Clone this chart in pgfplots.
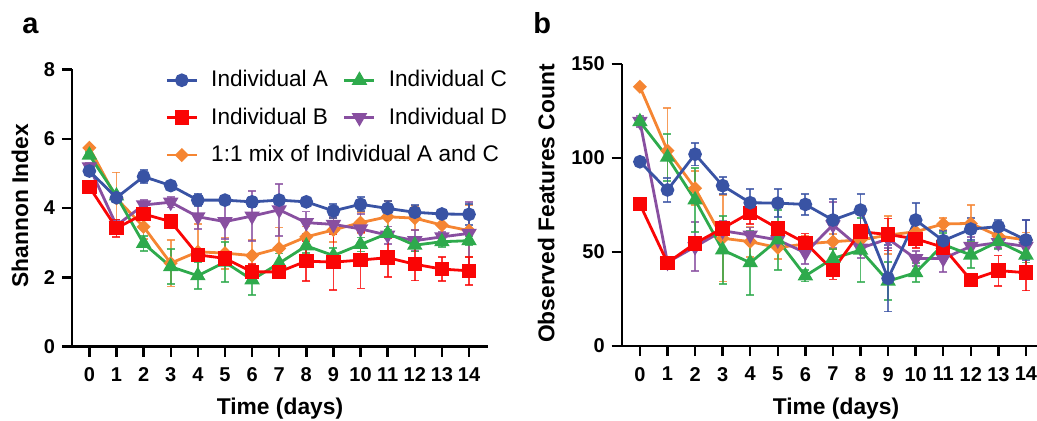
\documentclass[border=0pt]{standalone}
\usepackage{pgfplots}
\pgfplotsset{compat=1.18}
\usepackage{pgfplotstable}
\usepackage{fontspec}
\setmainfont{Liberation Sans}

\definecolor{colA}{RGB}{57,83,164}
\definecolor{colB}{RGB}{250,5,5}
\definecolor{colC}{RGB}{46,170,76}
\definecolor{colD}{RGB}{136,79,160}
\definecolor{colM}{RGB}{245,133,50}

% Shannon index: day, mean, error
\pgfplotstableread{
x y e
0 5.07 0.12
1 4.30 0.12
2 4.91 0.18
3 4.65 0.08
4 4.23 0.18
5 4.23 0.10
6 4.18 0.15
7 4.23 0.10
8 4.18 0.06
9 3.92 0.20
10 4.11 0.20
11 3.99 0.22
12 3.88 0.20
13 3.83 0.12
14 3.82 0.30
}\shanA
\pgfplotstableread{
x y e
0 4.61 0.10
1 3.42 0.25
2 3.83 0.15
3 3.61 0.20
4 2.65 0.12
5 2.55 0.12
6 2.16 0.22
7 2.16 0.10
8 2.47 0.57
9 2.44 0.80
10 2.50 0.82
11 2.57 0.55
12 2.38 0.47
13 2.24 0.35
14 2.19 0.40
}\shanB
\pgfplotstableread{
x y e
0 5.53 0.08
1 4.35 0.10
2 2.98 0.22
3 2.31 0.50
4 2.05 0.38
5 2.44 0.58
6 1.93 0.43
7 2.41 0.28
8 2.91 0.20
9 2.63 0.22
10 2.95 0.20
11 3.27 0.10
12 2.93 0.18
13 3.03 0.15
14 3.06 0.12
}\shanC
\pgfplotstableread{
x y e
0 5.19 0.10
1 3.50 0.15
2 4.09 0.15
3 4.17 0.15
4 3.75 0.35
5 3.61 0.50
6 3.77 0.72
7 3.95 0.75
8 3.58 0.32
9 3.53 0.25
10 3.40 0.42
11 3.22 0.25
12 3.06 0.30
13 3.17 0.15
14 3.27 0.90
}\shanD
\pgfplotstableread{
x y e
0 5.74 0.05
1 4.28 0.75
2 3.46 0.35
3 2.41 0.67
4 2.74 0.80
5 2.70 0.45
6 2.63 0.45
7 2.84 0.60
8 3.17 0.30
9 3.37 0.35
10 3.58 0.30
11 3.75 0.45
12 3.71 0.35
13 3.51 0.35
14 3.35 0.75
}\shanM

% Observed features: day, mean, error
\pgfplotstableread{
x y e
0 98.0 1
1 83.0 6.5
2 102.0 6
3 85.3 4.5
4 76.2 7.5
5 76.0 7.5
6 75.3 5.6
7 67.0 11
8 72.3 8.5
9 36.0 17.7
10 67.0 9
11 56.0 5
12 62.2 6
13 63.5 3.5
14 56.4 10.5
}\obsA
\pgfplotstableread{
x y e
0 75.4 1
1 44.3 1
2 54.6 3
3 62.6 3
4 70.9 6
5 62.6 3
6 54.8 5
7 40.4 5
8 60.8 9
9 59.3 8.5
10 57.0 5
11 52.5 5
12 35.1 2
13 40.1 8
14 39.0 9.5
}\obsB
\pgfplotstableread{
x y e
0 119.3 2
1 100.4 12.5
2 77.7 17
3 51.1 18
4 44.3 17
5 56.4 16
6 37.3 3
7 46.6 5
8 51.0 17
9 34.5 10
10 39.0 5
11 54.0 6
12 48.4 7
13 55.5 4
14 48.4 4
}\obsC
\pgfplotstableread{
x y e
0 119.5 3
1 44.5 1
2 52.8 13
3 61.3 5
4 59.0 4
5 56.4 4
6 49.6 6
7 64.4 12
8 52.0 5
9 57.0 5
10 46.5 4
11 46.5 7
12 53.0 5
13 55.0 3
14 53.0 14
}\obsD
\pgfplotstableread{
x y e
0 137.9 1
1 103.9 22.5
2 83.9 9
3 57.3 23
4 55.5 8
5 52.3 6
6 54.3 4
7 55.5 4
8 56.4 7
9 59.0 10
10 60.8 5
11 64.9 3
12 65.2 10
13 58.5 3
14 56.4 4
}\obsM

\pgfplotsset{
  panel/.style={
    scale only axis,
    axis lines=left,
    axis line style={-, line width=1.2pt},
    tick align=outside,
    major tick length=5pt,
    tick style={line width=1.2pt, black},
    xtick={0,...,14},
    minor tick num=0,
    tick label style={font=\fontsize{10}{12}\selectfont\bfseries},
    xticklabel style={yshift=-2pt},
    /pgf/number format/assume math mode=true,
    label style={font=\fontsize{11.4}{13}\selectfont\bfseries},
    clip=false,
  },
  errs/.style={
    error bars/y dir=both,
    error bars/y explicit,
    error bars/error bar style={line width=0.9pt, opacity=0.8, #1},
    error bars/error mark options={rotate=90, mark size=2pt, line width=0.9pt, opacity=0.8, #1},
  },
  lA/.style={color=colA, line width=1.4pt, mark=*, mark size=2.7pt, mark options={solid}},
  lB/.style={color=colB, line width=1.4pt, mark=square*, mark size=2.9pt, mark options={solid}},
  lC/.style={color=colC, line width=1.4pt, mark=triangle*, mark size=3.1pt, mark options={solid}},
  lD/.style={color=colD, line width=1.4pt, mark=triangle*, mark size=3.1pt, mark options={solid, rotate=180}},
  lM/.style={color=colM, line width=1.4pt, mark=square*, mark size=1.8pt, mark options={solid, rotate=45}},
  sA/.style={lA, errs=colA},
  sB/.style={lB, errs=colB},
  sC/.style={lC, errs=colC},
  sD/.style={lD, errs=colD},
  sM/.style={lM, errs=colM},
}

\begin{document}
\begin{tikzpicture}
\useasboundingbox (0pt,0pt) rectangle (518.5pt,-210.5pt);

\node[anchor=base west, inner sep=0pt, font=\fontsize{14.5}{16}\selectfont\bfseries] at (11pt,-17pt) {a};
\node[anchor=base west, inner sep=0pt, font=\fontsize{14.5}{16}\selectfont\bfseries] at (266.5pt,-17pt) {b};

% Panel a: Shannon index
\begin{axis}[
  panel,
  at={(36pt,-173.35pt)}, anchor=south west,
  width=208pt, height=138.6pt,
  xmin=-0.64, xmax=14.7, ymin=0, ymax=8,
  ytick={0,2,4,6,8},
  xlabel={Time (days)}, ylabel={Shannon Index},
  xlabel style={at={(axis description cs:0.5,-0.225)}, anchor=center},
  ylabel style={at={(axis description cs:-0.125,0.508)}, anchor=center},
  legend columns=2,
  legend cell align=left,
  legend image code/.code={\draw[mark repeat=2,mark phase=2] plot coordinates {(0pt,0pt) (7.5pt,0pt) (15pt,0pt)};},
  legend style={draw=none, fill=none, inner sep=0pt,
    at={(axis description cs:0.2236,1.012)}, anchor=north west,
    font=\fontsize{11.3}{13}\selectfont,
    row sep=5pt,
    /tikz/every odd column/.append style={column sep=4.5pt},
    /tikz/every even column/.append style={column sep=5.5pt}},
]
\addlegendimage{lA}\addlegendentry{Individual A}
\addlegendimage{lC}\addlegendentry{Individual C}
\addlegendimage{lB}\addlegendentry{Individual B}
\addlegendimage{lD}\addlegendentry{Individual D}
\addlegendimage{lM}\addlegendentry{\makebox[0pt][l]{1:1 mix of Individual A and C}}

\addplot[sM, forget plot] table[x=x, y=y, y error=e] {\shanM};
\addplot[sD, forget plot] table[x=x, y=y, y error=e] {\shanD};
\addplot[sC, forget plot] table[x=x, y=y, y error=e] {\shanC};
\addplot[sB, forget plot] table[x=x, y=y, y error=e] {\shanB};
\addplot[sA, forget plot] table[x=x, y=y, y error=e] {\shanA};
\end{axis}

% Panel b: observed features
\begin{axis}[
  panel,
  at={(310.85pt,-173pt)}, anchor=south west,
  width=207.65pt, height=141pt,
  xmin=-0.66, xmax=14.4, ymin=0, ymax=150,
  ytick={0,50,100,150},
  xlabel={Time (days)}, ylabel={Observed Features Count},
  xlabel style={at={(axis description cs:0.516,-0.222)}, anchor=center},
  ylabel style={at={(axis description cs:-0.182,0.505)}, anchor=center},
]
\addplot[sM] table[x=x, y=y, y error=e] {\obsM};
\addplot[sD] table[x=x, y=y, y error=e] {\obsD};
\addplot[sC] table[x=x, y=y, y error=e] {\obsC};
\addplot[sB] table[x=x, y=y, y error=e] {\obsB};
\addplot[sA] table[x=x, y=y, y error=e] {\obsA};
\end{axis}
\end{tikzpicture}
\end{document}
